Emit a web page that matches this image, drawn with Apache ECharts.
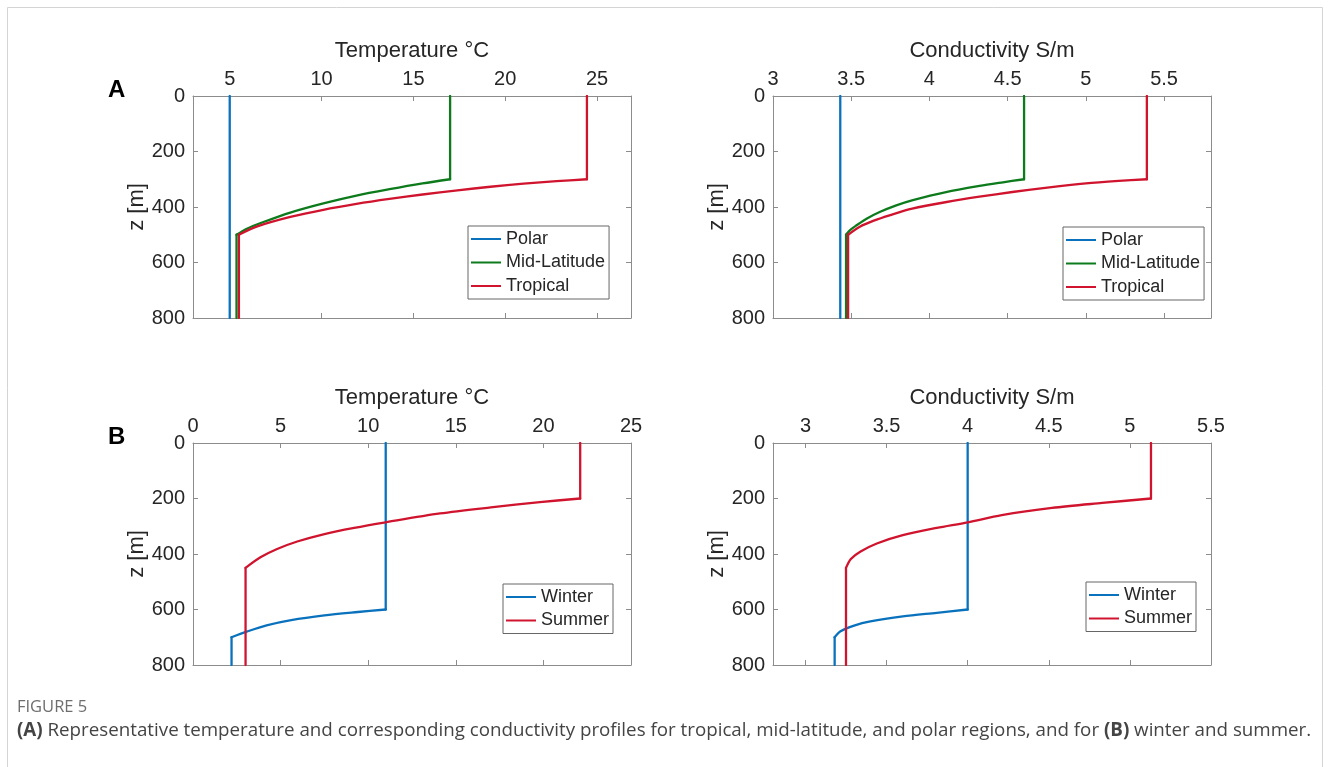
<!DOCTYPE html>
<html><head><meta charset="utf-8">
<script src="https://cdn.jsdelivr.net/npm/echarts@6/dist/echarts.min.js"></script>
<style>html,body{margin:0;padding:0;background:#fff;} #c{width:1330px;height:767px;}</style>
</head><body><div id="c"></div>
<script>
// ---- tick labels / categories ----
const depthTicks = [0, 200, 400, 600, 800];
const tempTicksA = [5, 10, 15, 20, 25];
const condTicksA = [3, 3.5, 4, 4.5, 5, 5.5];
const tempTicksB = [0, 5, 10, 15, 20, 25];
const condTicksB = [3, 3.5, 4, 4.5, 5, 5.5];
const namesA = ['Polar', 'Mid-Latitude', 'Tropical'];
const namesB = ['Winter', 'Summer'];

// ---- series values: [value, depth m] ----
const polarTemp = [[5.0, 0], [5.0, 800]];
const midLatTemp = [[17.0, 0], [17.0, 300], [15.5, 315], [13.7, 336], [11.9, 359], [10.1, 387], [8.3, 420], [6.8, 455], [5.9, 479], [5.37, 500], [5.37, 800]];
const tropicalTemp = [[24.45, 0], [24.45, 300], [22.8, 307], [21.0, 316], [19.2, 327], [17.4, 340], [15.5, 355], [13.7, 371], [11.9, 389], [10.1, 410], [8.3, 436], [6.5, 470], [5.5, 500], [5.5, 800]];

const polarCond = [[3.43, 0], [3.43, 800]];
const midLatCond = [[4.605, 0], [4.605, 300], [4.47, 311], [4.32, 324], [4.106, 346], [3.894, 375], [3.788, 394], [3.682, 418], [3.598, 442], [3.534, 466], [3.491, 484], [3.467, 500], [3.467, 800]];
const tropicalCond = [[5.39, 0], [5.39, 300], [5.21, 306], [5.0, 315], [4.74, 331], [4.53, 346], [4.32, 363], [4.11, 382], [3.89, 406], [3.75, 429], [3.64, 450], [3.555, 471], [3.48, 500], [3.48, 800]];

const winterTemp = [[11.0, 0], [11.0, 600], [9.4, 609], [7.5, 621], [5.6, 638], [4.2, 657], [3.1, 679], [2.2, 700], [2.2, 800]];
const summerTemp = [[22.1, 0], [22.1, 200], [19.8, 213], [17.0, 232], [14.1, 254], [11.0, 286], [9.2, 306], [7.5, 328], [5.95, 355], [4.8, 382], [3.85, 412], [3.0, 450], [3.0, 800]];

const winterCond = [[4.0, 0], [4.0, 600], [3.81, 612], [3.6, 625], [3.4, 643], [3.3, 658], [3.214, 679], [3.18, 700], [3.18, 800]];
const summerCond = [[5.13, 0], [5.13, 200], [4.83, 216], [4.52, 234], [4.21, 260], [4.0, 286], [3.81, 306], [3.6, 332], [3.44, 362], [3.34, 391], [3.28, 418], [3.25, 450], [3.25, 800]];

// ---- styling ----
const FONT = "'Liberation Sans', Arial, Helvetica, sans-serif";
const AX = '#8c8c8c';
const TXT = '#262626';
const BLUE = '#0a72bd';
const GREEN = '#0d7a1c';
const RED = '#d0142e';

const panels = [
  { left: 193, top: 96, xmin: 3, xmax: 26.85, ticks: tempTicksA, name: 'Temperature °C' },
  { left: 773, top: 96, xmin: 3, xmax: 5.8, ticks: condTicksA, name: 'Conductivity S/m' },
  { left: 193, top: 443, xmin: 0, xmax: 25, ticks: tempTicksB, name: 'Temperature °C' },
  { left: 773, top: 443, xmin: 2.8, xmax: 5.5, ticks: condTicksB, name: 'Conductivity S/m' }
];

const grid = [], xAxis = [], yAxis = [];
panels.forEach((p, i) => {
  grid.push({ left: p.left, top: p.top, width: 438, height: 222, containLabel: false, outerBoundsMode: 'none' });
  const common = {
    gridIndex: i, type: 'value', min: p.xmin, max: p.xmax,
    axisLine: { show: true, onZero: false, lineStyle: { color: AX, width: 1 } },
    axisTick: { show: true, inside: true, length: 5, customValues: p.ticks, lineStyle: { color: AX, width: 1 } },
    splitLine: { show: false }
  };
  xAxis.push(Object.assign({}, common, {
    position: 'top',
    name: p.name, nameLocation: 'middle', nameGap: 34,
    nameTextStyle: { fontSize: 22, color: TXT, fontFamily: FONT },
    axisLabel: { show: true, customValues: p.ticks, fontSize: 20, color: TXT, fontFamily: FONT, margin: 7 }
  }));
  xAxis.push(Object.assign({}, common, {
    position: 'bottom',
    axisLabel: { show: false }
  }));
  const ycommon = {
    gridIndex: i, type: 'value', inverse: true, min: 0, max: 800, interval: 200,
    axisLine: { show: true, onZero: false, lineStyle: { color: AX, width: 1 } },
    axisTick: { show: true, inside: true, length: 5, lineStyle: { color: AX, width: 1 } },
    splitLine: { show: false }
  };
  yAxis.push(Object.assign({}, ycommon, {
    position: 'left',
    name: 'z [m]', nameLocation: 'middle', nameRotate: 90, nameGap: 45,
    nameTextStyle: { fontSize: 22, color: TXT, fontFamily: FONT },
    axisLabel: { show: true, customValues: depthTicks, fontSize: 20, color: TXT, fontFamily: FONT, margin: 8 }
  }));
  yAxis.push(Object.assign({}, ycommon, {
    position: 'right',
    axisLabel: { show: false }
  }));
});

function seg(name, data, color, pi, smooth) {
  return {
    type: 'line', name: name, data: data, xAxisIndex: 2 * pi, yAxisIndex: 2 * pi,
    symbol: 'none', showSymbol: false, smooth: smooth, animation: false,
    lineStyle: { width: 2.3, color: color, cap: 'round', join: 'round' }, itemStyle: { color: color }
  };
}
// A profile: constant top layer, curved transition, constant bottom layer.
function profile(name, data, color, pi) {
  if (data.length <= 2) return [seg(name, data, color, pi, false)];
  const n = data.length;
  return [
    seg(name, data.slice(0, 2), color, pi, false),
    seg(name, data.slice(1, n - 1), color, pi, 0.3),
    seg(name, data.slice(n - 2), color, pi, false)
  ];
}

const series = [].concat(
  profile(namesA[0], polarTemp, BLUE, 0),
  profile(namesA[1], midLatTemp, GREEN, 0),
  profile(namesA[2], tropicalTemp, RED, 0),
  profile(namesA[0], polarCond, BLUE, 1),
  profile(namesA[1], midLatCond, GREEN, 1),
  profile(namesA[2], tropicalCond, RED, 1),
  profile(namesB[0], winterTemp, BLUE, 2),
  profile(namesB[1], summerTemp, RED, 2),
  profile(namesB[0], winterCond, BLUE, 3),
  profile(namesB[1], summerCond, RED, 3)
);

function legend(names, left, top) {
  return {
    left: left, top: top, orient: 'vertical', data: names,
    icon: 'rect', itemWidth: 30, itemHeight: 2, itemGap: 3.5,
    padding: [3, 4, 3, 3],
    borderColor: '#666', borderWidth: 1, backgroundColor: '#fff',
    selectedMode: false,
    textStyle: { fontSize: 18, color: TXT, fontFamily: FONT, lineHeight: 20 }
  };
}

const captionFont = "'Open Sans', 'Noto Sans', sans-serif";

const option = {
  backgroundColor: '#fff',
  animation: false,
  grid: grid, xAxis: xAxis, yAxis: yAxis, series: series,
  legend: [
    legend(namesA, 468, 226),
    legend(namesA, 1063, 227),
    legend(namesB, 503, 584),
    legend(namesB, 1086, 582)
  ],
  graphic: [
    { type: 'rect', silent: true, shape: { x: 7.5, y: 7.5, width: 1315, height: 800 },
      style: { fill: 'none', stroke: '#d4d4d4', lineWidth: 1 } },
    { type: 'text', left: 108, top: 78, silent: true,
      style: { text: 'A', font: "bold 24px 'Liberation Sans', Arial, sans-serif", fill: '#000' } },
    { type: 'text', left: 108, top: 425, silent: true,
      style: { text: 'B', font: "bold 24px 'Liberation Sans', Arial, sans-serif", fill: '#000' } },
    { type: 'text', left: 17, top: 699, silent: true,
      style: { text: 'FIGURE 5', font: "16.5px " + captionFont, fill: '#6e6e6e' } },
    { type: 'text', left: 17, top: 721, silent: true,
      style: {
        text: '{b|(A)} Representative temperature and corresponding conductivity profiles for tropical, mid-latitude, and polar regions, and for {b|(B)} winter and summer.',
        font: "18.75px " + captionFont, fill: '#444',
        rich: { b: { fontWeight: 'bold', fontSize: 18.75, fontFamily: captionFont, fill: '#444' } }
      } }
  ]
};

const chart = echarts.init(document.getElementById('c'), null, { renderer: 'canvas' });
chart.setOption(option);
</script>
</body></html>
